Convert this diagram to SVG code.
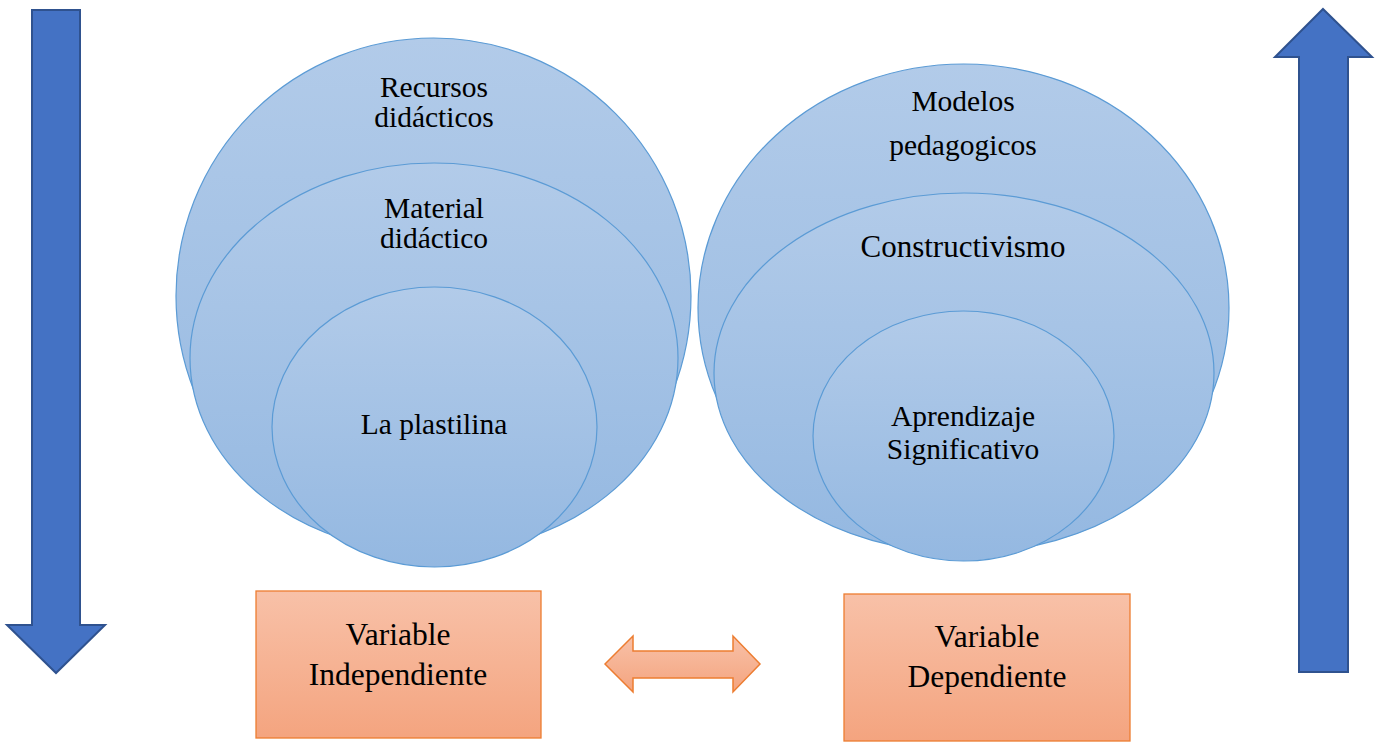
<svg xmlns="http://www.w3.org/2000/svg" width="1383" height="742" viewBox="0 0 1383 742">
<defs>
<linearGradient id="gBlue" x1="0" y1="0" x2="0" y2="1">
<stop offset="0" stop-color="#b2cbe9"/>
<stop offset="1" stop-color="#94b8e1"/>
</linearGradient>
<linearGradient id="gOrange" x1="0" y1="0" x2="0" y2="1">
<stop offset="0" stop-color="#f8c1a8"/>
<stop offset="1" stop-color="#f4a47f"/>
</linearGradient>
<style>
.circ{fill:url(#gBlue);stroke:#5b9bd5;stroke-width:1.2}
.box{fill:url(#gOrange);stroke:#ed7d31;stroke-width:1.3}
.barrow{fill:#4472c4;stroke:#2f528f;stroke-width:2}
.oarrow{fill:url(#gOrange);stroke:#ed7d31;stroke-width:1.5}
text{fill:#000;text-anchor:middle}
.tc{font-size:29.5px}
.tb{font-size:31.5px}
</style>
</defs>
<rect width="1383" height="742" fill="#ffffff"/>

<g id="arrow-down">
<polygon class="barrow" points="32,10 80,10 80,625 105,625 56,673 7,625 32,625"/>
</g>
<g id="arrow-up">
<polygon class="barrow" points="1323,9 1372,57 1348,57 1348,672 1299,672 1299,57 1275,57"/>
</g>

<g font-family="Liberation Serif, Times New Roman, serif">
<g id="recursos">
<ellipse class="circ" cx="433.5" cy="296" rx="257.5" ry="258"/>
<text class="tc" x="434" y="97">Recursos</text>
<text class="tc" x="434" y="127">didácticos</text>
</g>
<g id="material">
<ellipse class="circ" cx="434" cy="358" rx="244" ry="195"/>
<text class="tc" x="434" y="218">Material</text>
<text class="tc" x="434" y="248">didáctico</text>
</g>
<g id="plastilina">
<ellipse class="circ" cx="434.5" cy="427" rx="162.5" ry="140"/>
<text class="tc" x="434" y="434">La plastilina</text>
</g>

<g id="modelos">
<ellipse class="circ" cx="963.5" cy="308" rx="265.5" ry="244"/>
<text class="tc" x="963" y="111">Modelos</text>
<text class="tc" x="963" y="155">pedagogicos</text>
</g>
<g id="constructivismo">
<ellipse class="circ" cx="964" cy="373" rx="250" ry="180"/>
<text font-size="31" x="963" y="257">Constructivismo</text>
</g>
<g id="aprendizaje">
<ellipse class="circ" cx="963.5" cy="436" rx="150.5" ry="125"/>
<text class="tc" x="963" y="426">Aprendizaje</text>
<text class="tc" x="963" y="459">Significativo</text>
</g>

<g id="var-independiente">
<rect class="box" x="256" y="591" width="285" height="147"/>
<text class="tb" x="398" y="645">Variable</text>
<text class="tb" x="398" y="685">Independiente</text>
</g>
<g id="var-dependiente">
<rect class="box" x="844" y="594" width="286" height="147"/>
<text class="tb" x="987" y="647">Variable</text>
<text class="tb" x="987" y="687">Dependiente</text>
</g>
</g>

<g id="connectors">
<polygon class="oarrow" points="605,664 633,636 633,651 733,651 733,636 760,664 733,692 733,678 633,678 633,692"/>
</g>
</svg>
